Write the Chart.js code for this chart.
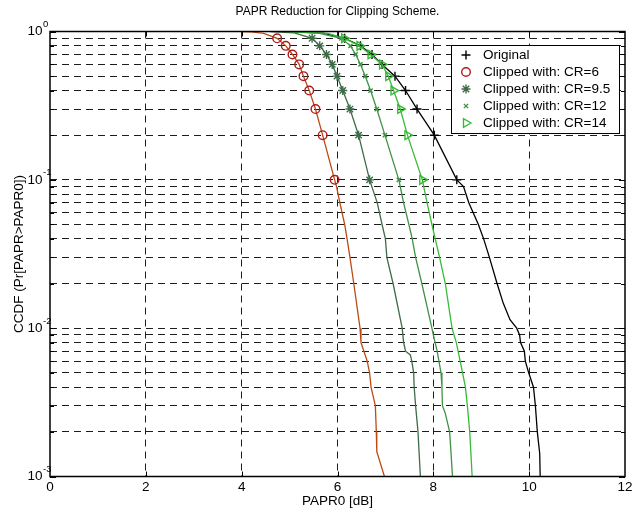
<!DOCTYPE html>
<html lang="en">
<head>
  <meta charset="UTF-8">
  <title>PAPR Reduction for Clipping Scheme</title>
  <script src="https://cdn.jsdelivr.net/npm/chart.js"></script>
  <style>
    body { margin: 0; background: #fff; }
    #wrap { width: 632px; height: 510px; }
  </style>
</head>
<body>
  <div id="wrap"><canvas id="chart" width="632" height="510"></canvas></div>

  <script>
    // tick values
    const xTicks = [0, 2, 4, 6, 8, 10, 12];
    const yDecades = [1, 0.1, 0.01, 0.001];

    // CCDF levels where the markers sit
    const markCcdf = [0.9, 0.8, 0.7, 0.6, 0.5, 0.4, 0.3, 0.2, 0.1];

    // Original
    const paprOrig = [5.0, 5.7, 6.15, 6.48, 6.72, 6.93, 7.2, 7.42, 7.66, 8.02, 8.49, 8.63, 8.74, 8.94, 9.05, 9.17, 9.33, 9.46, 9.6, 9.74, 9.8, 9.82, 9.9, 9.92, 9.99, 10.09, 10.13, 10.17, 10.22, 10.23];
    const ccdfOrig = [1, 0.975, 0.9, 0.8, 0.7, 0.6, 0.5, 0.4, 0.3, 0.2, 0.1, 0.09, 0.07, 0.05, 0.04, 0.03, 0.02, 0.0147, 0.0114, 0.01, 0.009, 0.008, 0.007, 0.006, 0.005, 0.004, 0.003, 0.002, 0.00143, 0.001];
    const markOrig = [6.15, 6.48, 6.72, 6.93, 7.2, 7.42, 7.66, 8.02, 8.49];

    // CR = 6
    const paprCR6 = [3.98, 4.2, 4.46, 4.74, 4.92, 5.06, 5.2, 5.29, 5.41, 5.54, 5.69, 5.94, 5.98, 6.05, 6.15, 6.2, 6.26, 6.34, 6.47, 6.49, 6.62, 6.67, 6.70, 6.79, 6.81, 6.82, 6.98];
    const ccdfCR6 = [1, 0.995, 0.972, 0.9, 0.8, 0.7, 0.6, 0.5, 0.4, 0.3, 0.2, 0.1, 0.09, 0.07, 0.05, 0.04, 0.03, 0.02, 0.01, 0.008, 0.006, 0.005, 0.004, 0.003, 0.002, 0.00147, 0.001];
    const markCR6 = [4.74, 4.92, 5.06, 5.2, 5.29, 5.41, 5.54, 5.69, 5.94];

    // CR = 9.5
    const paprCR95 = [4.6, 5.1, 5.47, 5.63, 5.77, 5.89, 5.99, 6.11, 6.26, 6.44, 6.67, 6.83, 6.93, 7.0, 7.03, 7.16, 7.35, 7.38, 7.42, 7.52, 7.55, 7.59, 7.6, 7.63, 7.68, 7.73];
    const ccdfCR95 = [1, 0.98, 0.9, 0.8, 0.7, 0.6, 0.5, 0.4, 0.3, 0.2, 0.1, 0.07, 0.05, 0.04, 0.03, 0.02, 0.01, 0.008, 0.007, 0.0066, 0.006, 0.005, 0.004, 0.003, 0.002, 0.001];
    const markCR95 = [5.47, 5.63, 5.77, 5.89, 5.99, 6.11, 6.26, 6.44, 6.67];

    // CR = 12
    const paprCR12 = [4.9, 5.6, 6.08, 6.27, 6.38, 6.48, 6.58, 6.69, 6.82, 6.99, 7.28, 7.38, 7.49, 7.56, 7.63, 7.76, 7.97, 8.0, 8.08, 8.16, 8.18, 8.19, 8.25, 8.34, 8.37, 8.40];
    const ccdfCR12 = [1, 0.975, 0.9, 0.8, 0.7, 0.6, 0.5, 0.4, 0.3, 0.2, 0.1, 0.07, 0.05, 0.04, 0.03, 0.02, 0.01, 0.009, 0.007, 0.005, 0.004, 0.003, 0.00266, 0.002, 0.00143, 0.001];
    const markCR12 = [6.08, 6.27, 6.38, 6.48, 6.58, 6.69, 6.82, 6.99, 7.28];

    // CR = 14
    const paprCR14 = [5.0, 5.8, 6.14, 6.46, 6.69, 6.93, 7.06, 7.17, 7.31, 7.46, 7.77, 7.87, 7.97, 8.04, 8.13, 8.25, 8.39, 8.48, 8.56, 8.67, 8.71, 8.76, 8.81];
    const ccdfCR14 = [1, 0.97, 0.9, 0.8, 0.7, 0.6, 0.5, 0.4, 0.3, 0.2, 0.1, 0.07, 0.05, 0.04, 0.03, 0.02, 0.01, 0.008, 0.006, 0.004, 0.003, 0.002, 0.001];
    const markCR14 = [6.14, 6.46, 6.69, 6.93, 7.06, 7.17, 7.31, 7.46, 7.77];

    const seriesNames = ['Original', 'Clipped with: CR=6', 'Clipped with: CR=9.5', 'Clipped with: CR=12', 'Clipped with: CR=14'];

    // all minor/major log ticks between 1e-3 and 1
    const yTicks = [];
    for (let e = -3; e < 0; e++) {
      for (let m = 1; m < 10; m++) yTicks.push(+(m * Math.pow(10, e)).toPrecision(3));
    }
    yTicks.push(1);

    const pts = (xs, ys) => xs.map((v, i) => ({ x: v, y: ys[i] }));
    const FONT = '"Liberation Sans", Arial, Helvetica, sans-serif';

    const series = [
      { name: seriesNames[0], lx: paprOrig, ly: ccdfOrig, mx: markOrig, line: '#000000', mark: '#000000', style: 'cross', r: 4.5, rot: 0 },
      { name: seriesNames[1], lx: paprCR6, ly: ccdfCR6, mx: markCR6, line: '#bd4a14', mark: '#b01c1c', style: 'circle', r: 4.3, rot: 0 },
      { name: seriesNames[2], lx: paprCR95, ly: ccdfCR95, mx: markCR95, line: '#3e6b48', mark: '#3e6b48', style: 'star', r: 4.5, rot: 0 },
      { name: seriesNames[3], lx: paprCR12, ly: ccdfCR12, mx: markCR12, line: '#3f9244', mark: '#3f9244', style: 'crossRot', r: 3, rot: 0 },
      { name: seriesNames[4], lx: paprCR14, ly: ccdfCR14, mx: markCR14, line: '#37bb37', mark: '#37bb37', style: 'triangle', r: 5, rot: 90 }
    ];

    const datasets = [];
    series.forEach((s, k) => {
      datasets.push({
        label: s.name + ' line',
        data: pts(s.lx, s.ly),
        showLine: true,
        borderColor: s.line,
        borderWidth: 1.3,
        pointRadius: 0,
        order: 20 - 2 * k
      });
      datasets.push({
        label: s.name,
        isMarker: true,
        data: pts(s.mx, markCcdf),
        showLine: false,
        pointStyle: s.style,
        pointRadius: s.r,
        pointRotation: s.rot,
        pointBorderColor: s.mark,
        pointBackgroundColor: 'rgba(0,0,0,0)',
        pointBorderWidth: 1.4,
        order: 19 - 2 * k
      });
    });

    function seg(ctx, x1, y1, x2, y2) {
      ctx.beginPath(); ctx.moveTo(x1, y1); ctx.lineTo(x2, y2); ctx.stroke();
    }

    const overlay = {
      id: 'overlay',
      afterDatasetsDraw(chart) {
        const { ctx, chartArea: a, scales: { x, y } } = chart;
        ctx.save();
        ctx.strokeStyle = '#000';
        ctx.lineWidth = 1;
        // inner tick marks
        xTicks.slice(1, -1).forEach(v => {
          const px = Math.round(x.getPixelForValue(v)) + 0.5;
          seg(ctx, px, a.bottom, px, a.bottom - 5);
          seg(ctx, px, a.top, px, a.top + 5);
        });
        yTicks.forEach(v => {
          const py = Math.round(y.getPixelForValue(v)) + 0.5;
          const len = yDecades.includes(v) ? 6 : 4;
          seg(ctx, a.left, py, a.left + len, py);
          seg(ctx, a.right, py, a.right - len, py);
        });
        // plot box
        ctx.lineWidth = 1.5;
        ctx.strokeRect(a.left, a.top, a.right - a.left, a.bottom - a.top);

        ctx.fillStyle = '#000';
        // x tick labels
        ctx.font = '13.5px ' + FONT;
        ctx.textAlign = 'center';
        ctx.textBaseline = 'middle';
        xTicks.forEach(v => ctx.fillText(String(v), x.getPixelForValue(v), 487));
        // y tick labels 10^n
        yDecades.forEach(v => {
          const py = y.getPixelForValue(v);
          const e = Math.round(Math.log10(v));
          ctx.font = '13.5px ' + FONT;
          ctx.textAlign = 'right';
          ctx.fillText('10', 42.5, py);
          ctx.font = '9.5px ' + FONT;
          ctx.textAlign = 'left';
          ctx.fillText(String(e), 43, py - 7);
        });
        // title and axis titles
        ctx.font = '12px ' + FONT;
        ctx.textAlign = 'center';
        ctx.fillText('PAPR Reduction for Clipping Scheme.', (a.left + a.right) / 2, 12);
        ctx.font = '13.5px ' + FONT;
        ctx.textBaseline = 'alphabetic';
        ctx.fillText('PAPR0 [dB]', (a.left + a.right) / 2, 505);
        ctx.save();
        ctx.translate(23, (a.top + a.bottom) / 2);
        ctx.rotate(-Math.PI / 2);
        ctx.fillText('CCDF (Pr[PAPR>PAPR0])', 0, 0);
        ctx.restore();

        // legend
        const lx = 451, ly = 45, lw = 168, lh = 88;
        ctx.fillStyle = '#fff';
        ctx.fillRect(lx, ly, lw, lh);
        ctx.lineWidth = 1;
        ctx.strokeStyle = '#000';
        ctx.strokeRect(lx + 0.5, ly + 0.5, lw, lh);
        ctx.font = '13.5px ' + FONT;
        ctx.textAlign = 'left';
        ctx.textBaseline = 'middle';
        chart.data.datasets.filter(d => d.isMarker).forEach((d, i) => {
          const cy = ly + 10 + i * 17;
          ctx.strokeStyle = d.pointBorderColor;
          ctx.fillStyle = 'rgba(0,0,0,0)';
          ctx.lineWidth = d.pointBorderWidth;
          Chart.helpers.drawPoint(ctx, { pointStyle: d.pointStyle, radius: d.pointRadius, rotation: d.pointRotation, borderWidth: d.pointBorderWidth }, lx + 15, cy);
          ctx.fillStyle = '#000';
          ctx.fillText(d.label, lx + 32, cy);
        });
        ctx.restore();
      }
    };

    const gridColor = (edges) => (c) => (c.tick && edges.includes(c.tick.value)) ? 'rgba(0,0,0,0)' : '#1e1e1e';

    new Chart(document.getElementById('chart'), {
      type: 'scatter',
      data: { datasets: datasets },
      options: {
        responsive: false,
        animation: false,
        layout: { padding: { left: 50, top: 31.5, right: 7, bottom: 33.5 } },
        plugins: { legend: { display: false }, tooltip: { enabled: false }, title: { display: false } },
        scales: {
          x: {
            type: 'linear', min: 0, max: 12,
            ticks: { display: false, stepSize: 2 },
            afterBuildTicks: s => { s.ticks = xTicks.map(v => ({ value: v })); },
            afterFit: s => { s.height = 0; },
            grid: { color: gridColor([0, 12]), lineWidth: 1, drawTicks: false },
            border: { display: false, dash: [7, 5] }
          },
          y: {
            type: 'logarithmic', min: 0.001, max: 1,
            ticks: { display: false },
            afterBuildTicks: s => { s.ticks = yTicks.map(v => ({ value: v })); },
            afterFit: s => { s.width = 0; },
            grid: { color: gridColor([0.001, 1]), lineWidth: 1, drawTicks: false },
            border: { display: false, dash: [7, 5] }
          }
        }
      },
      plugins: [overlay]
    });
  </script>
</body>
</html>
